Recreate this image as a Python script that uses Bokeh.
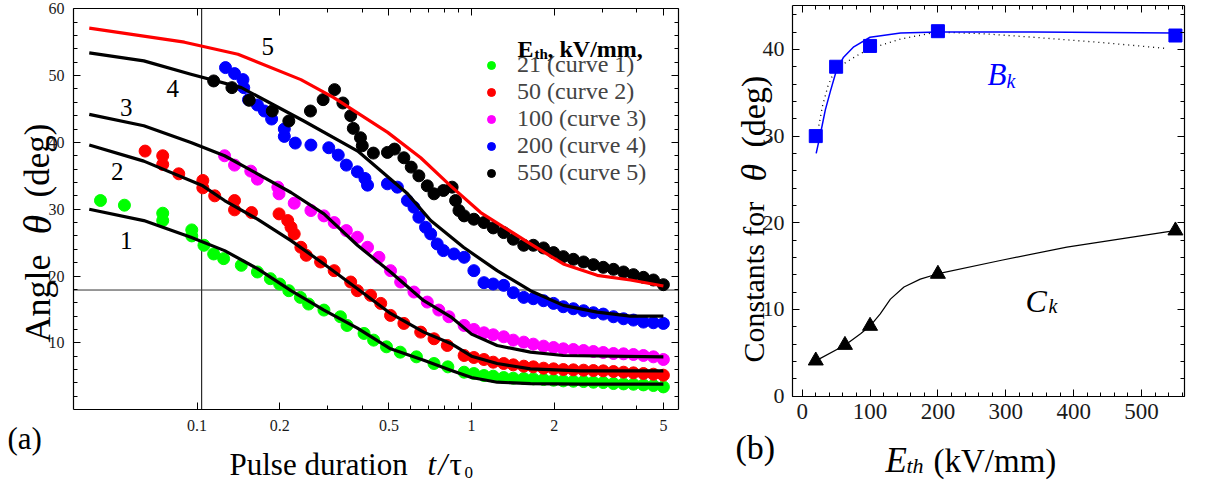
import math
from bokeh.plotting import figure
from bokeh.models import (Range1d, LogAxis, LinearAxis, FixedTicker, SingleIntervalTicker,
                          CustomJSTickFormatter, Legend, LegendItem)
from bokeh.layouts import row
from bokeh.core.properties import value
from bokeh.embed import file_html
from bokeh.resources import INLINE

FONT = "Liberation Serif"

# ---------------- panel (a) data ----------------
t1 = [0.0445, 0.0544, 0.075, 0.075, 0.0957, 0.0957, 0.106, 0.115, 0.125, 0.145, 0.166, 0.185, 0.2, 0.216,
      0.238, 0.255, 0.29, 0.333, 0.352, 0.406, 0.44, 0.49, 0.55, 0.63, 0.73, 0.82,
      0.94, 1.02, 1.11, 1.2, 1.31, 1.42, 1.55, 1.68, 1.83, 1.99, 2.16, 2.35, 2.56, 2.78, 3.02, 3.29,
      3.58, 3.89, 4.23, 4.6, 5.0]
y1 = [31.3, 30.6, 29.4, 28.3, 26.9, 26.0, 24.6, 23.3, 22.6, 21.6, 20.6, 19.6, 18.8, 17.8,
      16.8, 15.8, 14.9, 13.9, 12.6, 11.4, 10.4, 9.4, 8.6, 7.9, 6.9, 6.4,
      5.6, 5.4, 5.1, 5.0, 4.8, 4.7, 4.65, 4.6, 4.5, 4.4, 4.3, 4.25, 4.2, 4.1, 4.05, 3.9,
      3.85, 3.8, 3.7, 3.6, 3.4]

t2 = [0.0647, 0.075, 0.075, 0.0858, 0.105, 0.105, 0.116, 0.137, 0.137, 0.158, 0.199, 0.214, 0.22, 0.226,
      0.239, 0.25, 0.282, 0.316, 0.363, 0.384, 0.429, 0.467, 0.507, 0.567, 0.653, 0.73, 0.816,
      0.94, 1.02, 1.11, 1.2, 1.31, 1.42, 1.55, 1.68, 1.83, 1.99, 2.16, 2.35, 2.56, 2.78, 3.02, 3.29,
      3.58, 3.89, 4.23, 4.6, 5.0]
y2 = [38.7, 38.0, 36.7, 35.3, 34.3, 33.2, 32.0, 31.3, 29.9, 29.5, 29.3, 28.3, 27.3, 26.3,
      24.3, 23.1, 22.1, 20.8, 19.1, 17.8, 17.1, 15.9, 14.1, 12.9, 11.6, 10.6, 9.6,
      8.1, 7.8, 7.5, 7.1, 6.9, 6.7, 6.5, 6.4, 6.2, 6.1, 6.0, 5.95, 5.9, 5.85, 5.8, 5.7,
      5.6, 5.5, 5.4, 5.3, 5.15]

t3 = [0.126, 0.137, 0.157, 0.166, 0.197, 0.199, 0.226, 0.26, 0.29, 0.316, 0.35, 0.384, 0.418, 0.46,
      0.507, 0.552, 0.617, 0.69, 0.76, 0.827,
      0.94, 1.02, 1.11, 1.2, 1.31, 1.42, 1.55, 1.68, 1.83, 1.99, 2.16, 2.35, 2.56, 2.78, 3.02, 3.29,
      3.58, 3.89, 4.23, 4.6, 5.0]
y3 = [38.0, 36.6, 35.7, 34.5, 33.3, 32.3, 30.9, 29.8, 29.0, 28.0, 26.8, 25.8, 24.3, 22.8,
      20.8, 19.1, 17.6, 16.1, 14.9, 13.9,
      12.6, 12.0, 11.5, 11.2, 10.9, 10.4, 10.1, 9.8, 9.5, 9.3, 9.1, 9.0, 8.85, 8.7, 8.55, 8.4,
      8.35, 8.25, 8.1, 7.9, 7.5]

t4 = [0.127, 0.137, 0.147, 0.148, 0.154, 0.166, 0.176, 0.187, 0.208, 0.208, 0.228, 0.26, 0.302, 0.327,
      0.35, 0.384, 0.409, 0.418, 0.494, 0.537, 0.584, 0.617, 0.643, 0.68, 0.71, 0.75, 0.79, 0.863,
      0.94, 1.02, 1.11, 1.2, 1.31, 1.42, 1.55, 1.68, 1.83, 1.99, 2.16, 2.35, 2.56, 2.78, 3.02, 3.29,
      3.58, 3.89, 4.23, 4.6, 5.0]
y4 = [51.2, 50.3, 49.4, 48.2, 46.4, 45.6, 44.7, 43.5, 42.0, 40.9, 39.9, 39.6, 39.2, 38.1,
      36.6, 35.6, 34.6, 33.6, 33.8, 33.3, 31.3, 30.3, 28.8, 27.3, 26.3, 24.8, 23.8, 23.3,
      22.8, 20.8, 19.0, 18.8, 18.6, 17.5, 16.8, 16.6, 16.3, 15.9, 15.4, 15.1, 14.8, 14.5, 14.3, 13.9,
      13.6, 13.4, 13.1, 13.0, 12.9]

t5 = [0.115, 0.134, 0.155, 0.188, 0.216, 0.259, 0.288, 0.317, 0.34, 0.363, 0.371, 0.394, 0.40, 0.439,
      0.494, 0.524, 0.567, 0.603, 0.643, 0.69, 0.73, 0.79, 0.85, 0.875, 0.9,
      0.94, 1.02, 1.11, 1.2, 1.31, 1.42, 1.55, 1.68, 1.83, 1.99, 2.16, 2.35, 2.56, 2.78, 3.02, 3.29,
      3.58, 3.89, 4.23, 4.6, 5.0]
y5 = [49.2, 48.2, 46.3, 44.7, 43.2, 44.7, 46.4, 47.9, 45.9, 44.0, 42.1, 40.7, 39.5, 38.4,
      38.5, 39.0, 37.7, 36.3, 35.0, 33.5, 32.3, 32.8, 33.3, 31.3, 29.8,
      29.0, 28.5, 28.0, 27.2, 26.5, 25.5, 24.6, 24.6, 24.2, 23.5, 22.9, 22.5, 22.1, 21.7, 21.3, 21.0,
      20.6, 20.2, 19.8, 19.4, 18.7]

# fitted curves
f1_t = [0.0405, 0.064, 0.095, 0.126, 0.166, 0.22, 0.29, 0.384, 0.507, 0.67, 0.84, 1.0, 1.24, 1.64, 2.5, 5.0]
f1_y = [30.0, 28.3, 25.8, 23.8, 21.1, 17.8, 14.9, 12.2, 9.1, 7.4, 5.9, 4.8, 4.1, 3.9, 3.8, 3.8]
f2_t = [0.0405, 0.064, 0.105, 0.126, 0.166, 0.22, 0.29, 0.384, 0.507, 0.67, 0.84, 1.0, 1.24, 1.64, 2.5, 5.0]
f2_y = [39.6, 37.2, 33.5, 31.3, 28.5, 25.3, 21.8, 18.1, 14.4, 11.6, 9.9, 8.0, 6.9, 6.1, 5.8, 5.8]
f3_t = [0.0405, 0.064, 0.095, 0.126, 0.166, 0.22, 0.29, 0.384, 0.507, 0.67, 0.84, 1.0, 1.24, 1.64, 2.16, 5.0]
f3_y = [44.2, 42.5, 40.0, 38.0, 35.3, 32.5, 29.3, 24.6, 20.6, 16.3, 13.9, 11.3, 9.6, 8.6, 8.1, 7.9]
f4_t = [0.0405, 0.064, 0.095, 0.145, 0.245, 0.385, 0.585, 0.71, 0.935, 1.24, 1.64, 2.16, 2.87, 3.79, 5.0]
f4_y = [53.4, 52.2, 50.2, 48.2, 43.2, 38.7, 32.3, 28.3, 24.3, 20.8, 17.8, 15.6, 14.6, 14.0, 14.0]
f5_t = [0.0405, 0.09, 0.141, 0.239, 0.315, 0.495, 0.653, 0.839, 1.08, 1.64, 2.16, 2.87, 3.79, 5.0]
f5_y = [57.1, 55.0, 53.2, 49.4, 46.7, 41.5, 37.7, 33.5, 29.5, 24.8, 21.8, 20.1, 19.4, 18.5]

legend_labels = ["21 (curve 1)", "50 (curve 2)", "100 (curve 3)", "200 (curve 4)", "550 (curve 5)"]
series_colors = ["#00ff00", "#ff0000", "#ff00ff", "#0000ff", "#000000"]

curve_num_t = [0.0552, 0.0512, 0.0552, 0.0816, 0.181]
curve_num_y = [25.3, 35.7, 45.2, 48.1, 54.4]
curve_num_txt = ["1", "2", "3", "4", "5"]

x_major = [0.1, 0.2, 0.5, 1, 2, 5]
x_minor = [0.3, 0.4, 0.6, 0.7, 0.8, 0.9, 3, 4]
y_major_a = [10, 20, 30, 40, 50, 60]
y_minor_a = [v for v in range(2, 60, 2) if v % 10]

# view ranges (whole canvas) and plot box of panel (a)
A_X0, A_X1 = 0.019236, 6.8265
A_Y0, A_Y1 = -10.763, 61.243
a_x_lo, a_x_hi = 0.0355, 5.677
a_y_lo, a_y_hi = 0.0, 60.0
vline_t = 0.104
hline_deg = 17.9

# ---------------- panel (b) data ----------------
Eth_B = [20, 50, 100, 200, 550]
B_k = [30.0, 38.0, 40.4, 42.1, 41.6]
Eth_C = [20, 63, 100, 200, 550]
C_k = [4.1, 5.9, 8.1, 14.1, 19.1]
Bfit_x = [20.6, 27, 34, 42, 50.5, 61, 76, 100, 145, 200, 341, 549]
Bfit_y = [28.0, 30.3, 33.0, 35.3, 37.6, 39.1, 40.3, 41.4, 41.9, 42.0, 42.0, 41.9]
Bdot_x = [24.5, 30, 38, 47, 56, 81, 100, 145, 199, 268, 341, 440, 538]
Bdot_y = [31.2, 33.5, 35.8, 37.4, 38.1, 39.3, 40.1, 41.2, 42.0, 41.8, 41.4, 40.8, 40.1]
Cfit_x = [20.6, 63.4, 86, 100.6, 115, 130, 150, 174, 199, 292, 390, 549]
Cfit_y = [4.1, 5.9, 7.2, 8.15, 9.5, 11.2, 12.6, 13.5, 14.1, 15.65, 17.2, 19.1]

B_X0, B_X1 = -149.87, 595.79
B_Y0, B_Y1 = -9.839, 45.64
b_x_lo, b_x_hi = -14.3, 563.4
b_y_lo, b_y_hi = 0.0, 45.06

H = 481
W1, W2 = 700, 506
half_pi = math.pi / 2


def make_axis(cls, p, side, loc, bounds, ticker, size=None, standoff=0, show=True, formatter=None):
    ax = cls(fixed_location=loc, bounds=bounds, ticker=ticker)
    ax.axis_line_color = "black"
    ax.axis_line_width = 1.2
    ax.major_tick_in = 7
    ax.major_tick_out = 0
    ax.minor_tick_in = 4
    ax.minor_tick_out = 0
    ax.major_tick_line_color = "black"
    ax.minor_tick_line_color = "black"
    ax.major_label_text_font = FONT
    ax.major_label_text_color = "#1a1a1a"
    if show:
        ax.major_label_text_font_size = size
        ax.major_label_standoff = standoff
        if formatter is not None:
            ax.formatter = formatter
    else:
        ax.formatter = CustomJSTickFormatter(code="return '';")
        ax.major_label_text_font_size = "1px"
        ax.major_label_standoff = 0
    p.add_layout(ax, side)
    return ax


def base_fig(width, x_range, y_range, xtype):
    p = figure(width=width, height=H, x_axis_type=xtype, x_axis_location=None, y_axis_location=None,
               x_range=x_range, y_range=y_range, output_backend="svg", toolbar_location=None,
               min_border_left=0, min_border_right=0, min_border_top=0, min_border_bottom=0)
    p.grid.visible = False
    p.outline_line_color = None
    p.background_fill_color = "white"
    p.border_fill_color = "white"
    return p


# pixel (canvas, from top-left) -> data position, used only to place the free text labels
def a_pos(px, py):
    lx0, lx1 = math.log10(A_X0), math.log10(A_X1)
    return 10 ** (lx0 + px / W1 * (lx1 - lx0)), A_Y1 - py / H * (A_Y1 - A_Y0)


def b_pos(px, py):
    return B_X0 + (px - W1) / W2 * (B_X1 - B_X0), B_Y1 - py / H * (B_Y1 - B_Y0)


def txt(p, pos, text, size, style="normal", angle=0.0, color="black"):
    x, y = pos
    p.text([x], [y], text=[text], text_font=value(FONT), text_font_size=f"{size}px",
           text_font_style=style, angle=angle, text_align="left", text_baseline="alphabetic",
           text_color=color)


# ---------------- figure (a) ----------------
p1 = base_fig(W1, Range1d(A_X0, A_X1), Range1d(A_Y0, A_Y1), "log")

make_axis(LogAxis, p1, "below", a_y_lo, (a_x_lo, a_x_hi), FixedTicker(ticks=x_major, minor_ticks=x_minor),
          "16px", 10, formatter=CustomJSTickFormatter(code="return tick.toString();"))
make_axis(LogAxis, p1, "above", a_y_hi, (a_x_lo, a_x_hi), FixedTicker(ticks=x_major, minor_ticks=x_minor),
          show=False)
make_axis(LinearAxis, p1, "left", a_x_lo, (a_y_lo, a_y_hi), FixedTicker(ticks=y_major_a, minor_ticks=y_minor_a),
          "16px", 9)
make_axis(LinearAxis, p1, "right", a_x_hi, (a_y_lo, a_y_hi), FixedTicker(ticks=y_major_a, minor_ticks=y_minor_a),
          show=False)

p1.line([vline_t, vline_t], [a_y_lo, a_y_hi], line_color="black", line_width=1)
p1.line([a_x_lo, a_x_hi], [hline_deg, hline_deg], line_color="#333333", line_width=1)

rs = []
for tt, yy, c in zip([t1, t2, t3, t4, t5], [y1, y2, y3, y4, y5], series_colors):
    rs.append(p1.scatter(tt, yy, size=12, marker="circle", fill_color=c, line_color=c))

for ft, fy in [(f1_t, f1_y), (f2_t, f2_y), (f3_t, f3_y), (f4_t, f4_y)]:
    p1.line(ft, fy, line_color="black", line_width=3.2, line_join="round")
p1.line(f5_t, f5_y, line_color="#ff0000", line_width=3.2, line_join="round")

p1.text(curve_num_t, curve_num_y, text=curve_num_txt, text_font=value(FONT), text_font_size="25px",
        text_align="center", text_baseline="middle", text_color="black")

legend = Legend(items=[LegendItem(label=l, renderers=[r]) for l, r in zip(legend_labels, rs)],
                location=(481, 295))
legend.border_line_color = None
legend.background_fill_alpha = 0
legend.label_text_font = FONT
legend.label_text_font_size = "24px"
legend.glyph_width = 20
legend.glyph_height = 26
legend.label_height = 26
legend.label_standoff = 16
legend.spacing = 0
legend.padding = 0
legend.margin = 0
p1.add_layout(legend, "center")

txt(p1, a_pos(517, 48), "E", 24, "bold")
txt(p1, a_pos(534, 53), "th", 15, "bold")
txt(p1, a_pos(547, 48), ", kV/mm,", 24, "bold")

txt(p1, a_pos(37, 342), "Angle", 36, angle=half_pi)
txt(p1, a_pos(37, 234), "\u03b8", 40, "italic", angle=half_pi)
txt(p1, a_pos(37, 197), "(deg)", 35, angle=half_pi)

txt(p1, a_pos(229, 464), "Pulse duration", 31)
txt(p1, a_pos(427, 464), "t", 31, "italic")
txt(p1, a_pos(438, 464), "/", 31, "italic")
txt(p1, a_pos(449, 464), "\u03c4", 31)
txt(p1, a_pos(464, 472), "0", 17)
txt(p1, a_pos(7, 438), "(a)", 31)

# ---------------- figure (b) ----------------
p2 = base_fig(W2, Range1d(B_X0, B_X1), Range1d(B_Y0, B_Y1), "linear")

make_axis(LinearAxis, p2, "below", b_y_lo, (b_x_lo, b_x_hi), SingleIntervalTicker(interval=100, num_minor_ticks=5),
          "23px", 8)
make_axis(LinearAxis, p2, "above", b_y_hi, (b_x_lo, b_x_hi), SingleIntervalTicker(interval=100, num_minor_ticks=5),
          show=False)
make_axis(LinearAxis, p2, "left", b_x_lo, (b_y_lo, b_y_hi), SingleIntervalTicker(interval=10, num_minor_ticks=5),
          "22px", 8)
make_axis(LinearAxis, p2, "right", b_x_hi, (b_y_lo, b_y_hi), SingleIntervalTicker(interval=10, num_minor_ticks=5),
          show=False)

p2.line(Bdot_x, Bdot_y, line_color="black", line_width=1.3, line_dash="1 4")
p2.line(Bfit_x, Bfit_y, line_color="#0000ff", line_width=1.5)
p2.line(Cfit_x, Cfit_y, line_color="black", line_width=1.2)
p2.scatter(Eth_B, B_k, marker="square", size=13, fill_color="#0000ff", line_color="#0000ff")
p2.scatter(Eth_C, C_k, marker="triangle", size=15, fill_color="black", line_color="black")

txt(p2, b_pos(987, 74), "B", 31, "italic", color="#0000ff")
txt(p2, b_pos(1006, 80), "k", 20, "italic", color="#0000ff")
txt(p2, b_pos(1025, 300), "C", 32, "italic")
txt(p2, b_pos(1048, 305), "k", 20, "italic")

txt(p2, b_pos(753, 362), "Constants for", 30, angle=half_pi)
txt(p2, b_pos(753, 181), "\u03b8", 36, "italic", angle=half_pi)
txt(p2, b_pos(753, 147), "(deg)", 34, angle=half_pi)
txt(p2, b_pos(885, 460), "E", 35, "italic")
txt(p2, b_pos(906, 465), "th", 22, "italic")
txt(p2, b_pos(933, 460), "(kV/mm)", 33)
txt(p2, b_pos(735, 447), "(b)", 34)

layout = row(p1, p2)
open("out.html", "w").write(file_html(layout, INLINE))
